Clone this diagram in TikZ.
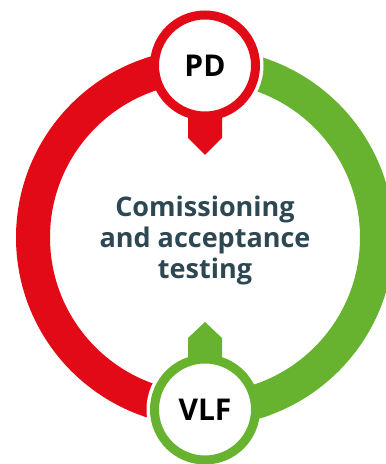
\documentclass[tikz,border=0pt]{standalone}
\usepackage{fontspec}
\setmainfont{Open Sans}
\usepackage{tikz}
\usepackage{xcolor}
\usetikzlibrary{calc, positioning}

\definecolor{pdred}{HTML}{E30A17}
\definecolor{vlfgreen}{HTML}{67B32F}
\definecolor{slate}{HTML}{2D4853}

\tikzset{
    ringarc/.style={line width=34pt},
    halo/.style={circle, fill=white, minimum size=117pt, inner sep=0pt},
    stagecircle/.style={circle, fill=white, line width=9pt, minimum size=101pt, inner sep=0pt,
        font=\bfseries\fontsize{30}{30}\selectfont},
    tab/.style={line width=0pt}
}

\begin{document}
\begin{tikzpicture}[x=1pt, y=1pt]
                        \useasboundingbox[fill=white] (0, 0) rectangle (386, 464);
                        \coordinate (mid) at (205, 226.5);
                        \coordinate (top) at (205, 398.5);
                        \coordinate (bot) at (205, 54.5);
                        % green half, then red half over a halo at the top
                        \draw[ringarc, vlfgreen] (bot) arc[start angle=-90, end angle=90, radius=172];
                        \node[halo] (pdhalo) at (top) {};
                        \draw[ringarc, pdred] (top) arc[start angle=90, end angle=270, radius=172];
                        \node[halo] (vlfhalo) at (bot) {};
                        \draw[ringarc, vlfgreen] (bot) arc[start angle=-90, end angle=-70, radius=172];
                        % tabs
                        \fill[pdred]
                        (188, 360) -- (222, 360) -- (222, 326) -- (205, 309) -- (188, 326) -- cycle;
                        \fill[vlfgreen]
                        (188, 100) -- (222, 100) -- (222, 126) -- (205, 142) -- (188, 126) -- cycle;
                        % stages
                        \node[stagecircle, draw=pdred] (pd) at (top) {PD};
                        \node[stagecircle, draw=vlfgreen] (vlf) at (bot) {VLF};
                        \node[align=center, text=slate, inner sep=0pt,
                            font=\bfseries\fontsize{27}{31}\selectfont] (label) at (205, 224)
                            {Comissioning\\and acceptance\\testing};
                    \end{tikzpicture}
\end{document}
